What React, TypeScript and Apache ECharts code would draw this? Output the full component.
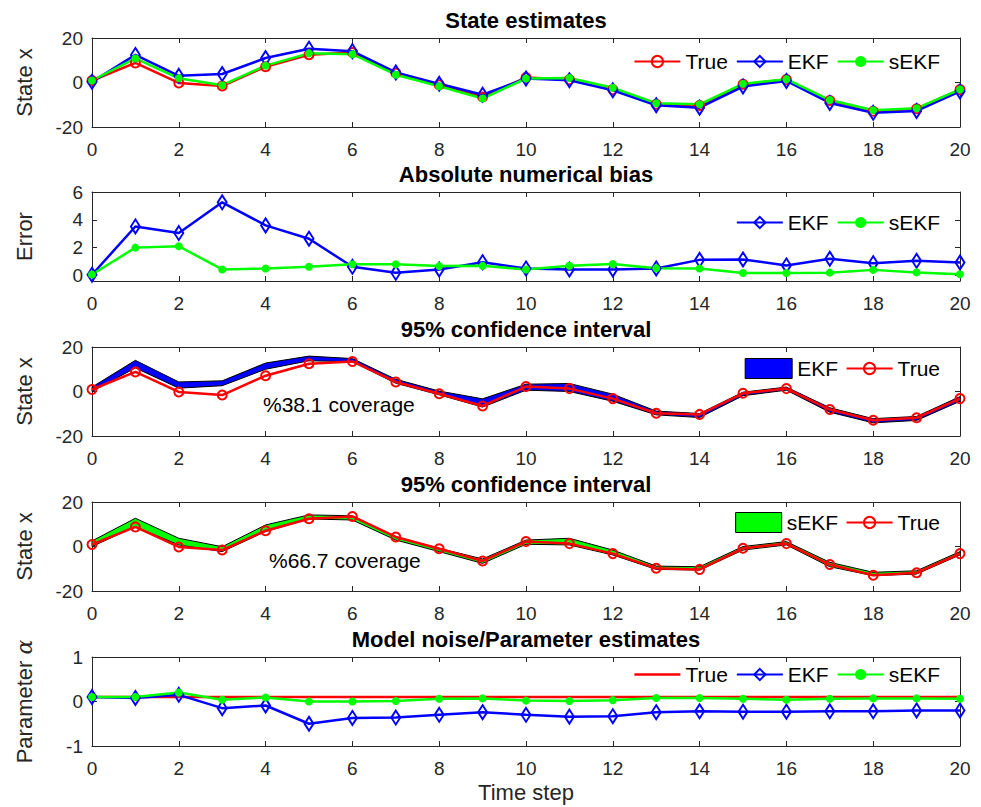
import { useEffect, useRef } from 'react';
import * as echarts from 'echarts';

// ---------------- data ----------------
const steps = [0, 1, 2, 3, 4, 5, 6, 7, 8, 9, 10, 11, 12, 13, 14, 15, 16, 17, 18, 19, 20];

const trueX = [0.9, 8.8, -0.2, -1.6, 7.1, 12.5, 13.5, 4.3, -1.0, -6.5, 2.2, 1.3, -3.2, -9.8, -10.3, -0.8, 1.3, -8.1, -12.9, -11.8, -3.2];
const ekfX = [0.3, 12.4, 3.0, 3.8, 11.0, 15.2, 14.1, 4.5, -0.6, -5.5, 1.8, 1.0, -3.5, -10.2, -11.3, -1.8, 0.7, -9.2, -13.6, -12.8, -4.0];
const sekfX = [0.9, 10.8, 1.9, -1.2, 7.6, 13.1, 12.7, 3.5, -1.7, -7.2, 1.8, 2.0, -2.4, -9.3, -9.8, -0.6, 1.5, -7.9, -12.5, -11.6, -3.1];

const ekfBias = [0.05, 3.52, 3.05, 5.26, 3.6, 2.64, 0.62, 0.19, 0.43, 0.95, 0.5, 0.43, 0.43, 0.5, 1.12, 1.15, 0.72, 1.2, 0.88, 1.05, 0.93];
const sekfBias = [0.07, 2.0, 2.1, 0.43, 0.5, 0.62, 0.8, 0.8, 0.67, 0.69, 0.43, 0.7, 0.82, 0.52, 0.5, 0.18, 0.18, 0.2, 0.4, 0.22, 0.08];

const ekfUpper = [2.0, 14.0, 4.3, 4.8, 12.8, 15.9, 14.8, 5.5, 0.2, -3.3, 3.3, 3.6, -1.2, -8.8, -9.9, -0.3, 2.0, -7.3, -12.2, -11.2, -2.3];
const ekfLower = [0.0, 10.6, 1.5, 2.6, 10.0, 13.8, 13.4, 3.7, -1.5, -7.0, 0.6, 0.0, -4.4, -10.5, -11.7, -1.9, 0.6, -9.3, -14.1, -13.0, -4.4];
const sekfUpper = [2.5, 12.7, 3.7, -0.1, 9.7, 14.2, 13.8, 4.4, -0.8, -5.6, 2.9, 3.7, -1.6, -8.8, -9.1, 0.0, 2.2, -7.1, -11.6, -10.9, -2.3];
const sekfLower = [0.0, 8.9, 0.7, -2.3, 6.7, 12.4, 11.9, 2.9, -2.3, -7.6, 1.0, 0.7, -3.8, -10.3, -10.6, -1.6, 0.7, -9.1, -13.1, -12.4, -3.8];

const alphaTrue = [0.1, 0.1, 0.1, 0.1, 0.1, 0.1, 0.1, 0.1, 0.1, 0.1, 0.1, 0.1, 0.1, 0.1, 0.1, 0.1, 0.1, 0.1, 0.1, 0.1, 0.1];
const alphaEkf = [0.1, 0.08, 0.15, -0.15, -0.09, -0.5, -0.37, -0.36, -0.3, -0.24, -0.3, -0.34, -0.33, -0.24, -0.22, -0.23, -0.23, -0.22, -0.22, -0.2, -0.2];
const alphaSekf = [0.1, 0.1, 0.2, 0.04, 0.09, 0.0, 0.0, 0.01, 0.06, 0.07, 0.02, 0.01, 0.03, 0.08, 0.08, 0.06, 0.04, 0.06, 0.07, 0.07, 0.06];

const biasTicks = [0, 2, 4, 6];
const panelTitles = ['State estimates', 'Absolute numerical bias', '95% confidence interval', '95% confidence interval', 'Model noise/Parameter estimates'];
const yNames = ['State x', 'Error', 'State x', 'State x', 'Parameter {a|α}'];
const coverageTexts = ['%38.1 coverage', '%66.7 coverage'];
const xName = 'Time step';

// ---------------- styling ----------------
const FONT = '"Liberation Sans", Arial, Helvetica, sans-serif';
const AX = '#262626';
const RED = '#ff0000';
const BLUE = '#0000ff';
const GREEN = '#00ff00';
const GRID_TOPS = [38, 192, 347, 502, 657];
const GRID_H = 89;
const LEFT = 92;
const WIDTH = 868;
const yRanges = [
  { min: -20, max: 20, interval: 20 },
  { min: -0.4, max: 6 },
  { min: -20, max: 20, interval: 20 },
  { min: -20, max: 20, interval: 20 },
  { min: -1, max: 1, interval: 1 },
];
const LINE_ICON = 'path://M0,0 L46,0 L46,2.5 L0,2.5 Z';

const pts = (ys: number[]) => steps.map((s, i) => [s, ys[i]]);

function lineSeries(name: string, g: number, ys: number[], kind: 'true' | 'ekf' | 'sekf' | 'trueLine') {
  const base: any = {
    type: 'line',
    name,
    xAxisIndex: 2 * g,
    yAxisIndex: 2 * g,
    data: pts(ys),
    silent: true,
    emphasis: { disabled: true },
    z: 3,
  };
  if (kind === 'true') {
    return {
      ...base,
      symbol: 'circle',
      symbolSize: 9,
      itemStyle: { color: 'rgba(255,255,255,0)', borderColor: RED, borderWidth: 2 },
      lineStyle: { color: RED, width: 2.5 },
    };
  }
  if (kind === 'trueLine') {
    return { ...base, symbol: 'none', itemStyle: { color: RED }, lineStyle: { color: RED, width: 2.5 } };
  }
  if (kind === 'ekf') {
    return {
      ...base,
      symbol: 'diamond',
      symbolSize: [9, 14],
      itemStyle: { color: 'rgba(255,255,255,0)', borderColor: BLUE, borderWidth: 2 },
      lineStyle: { color: BLUE, width: 2.5 },
    };
  }
  return {
    ...base,
    symbol: 'circle',
    symbolSize: 8,
    itemStyle: { color: GREEN },
    lineStyle: { color: GREEN, width: 2.5 },
  };
}

function bandSeries(name: string, g: number, upper: number[], lower: number[], color: string) {
  return {
    type: 'custom',
    name,
    xAxisIndex: 2 * g,
    yAxisIndex: 2 * g,
    data: [[steps[0], upper[0]]],
    encode: { x: 0, y: 1 },
    silent: true,
    z: 2,
    itemStyle: { color, borderColor: '#000', borderWidth: 1 },
    renderItem: (_params: any, api: any) => {
      const poly: number[][] = [];
      steps.forEach((s, i) => poly.push(api.coord([s, upper[i]])));
      for (let i = steps.length - 1; i >= 0; i--) poly.push(api.coord([steps[i], lower[i]]));
      return {
        type: 'polygon',
        shape: { points: poly },
        style: { fill: color, stroke: '#000', lineWidth: 1 },
      };
    },
  };
}

function legend(data: any[], right: number, centerY: number, itemWidth = 46, itemHeight = 14) {
  return {
    data,
    right,
    top: centerY - 11,
    orient: 'horizontal',
    padding: 0,
    itemGap: 8,
    itemWidth,
    itemHeight,
    selectedMode: false,
    formatter: (n: string) => n.split('#')[0],
    textStyle: { fontFamily: FONT, fontSize: 21, color: '#000', padding: 0 },
  };
}

function buildOption() {
  const grid = GRID_TOPS.map((top) => ({ left: LEFT, width: WIDTH, top, height: GRID_H, show: false }));
  const axisLine = { show: true, onZero: false, lineStyle: { color: AX, width: 1 } };
  const tick = { show: true, inside: true, length: 5, lineStyle: { color: AX, width: 1 } };
  const xAxis: any[] = [];
  const yAxis: any[] = [];
  GRID_TOPS.forEach((_t, g) => {
    xAxis.push({
      gridIndex: g,
      type: 'value',
      position: 'bottom',
      min: 0,
      max: 20,
      interval: 2,
      axisLine,
      axisTick: tick,
      splitLine: { show: false },
      axisLabel: { margin: 13, fontSize: 19, color: AX, fontFamily: FONT },
      ...(g === 4
        ? { name: xName, nameLocation: 'middle', nameGap: 35, nameTextStyle: { fontSize: 22, color: AX, fontFamily: FONT } }
        : {}),
    });
    xAxis.push({
      gridIndex: g,
      type: 'value',
      position: 'top',
      min: 0,
      max: 20,
      interval: 2,
      axisLine,
      axisTick: tick,
      splitLine: { show: false },
      axisLabel: { show: false },
    });
    const r = yRanges[g];
    const custom = g === 1;
    yAxis.push({
      gridIndex: g,
      type: 'value',
      position: 'left',
      min: r.min,
      max: r.max,
      ...(custom ? {} : { interval: r.interval }),
      axisLine,
      axisTick: custom ? { ...tick, customValues: biasTicks } : tick,
      splitLine: { show: false },
      axisLabel: custom
        ? { margin: 9, fontSize: 19, color: AX, fontFamily: FONT, customValues: biasTicks }
        : { margin: 9, fontSize: 19, color: AX, fontFamily: FONT },
      name: yNames[g],
      nameLocation: 'middle',
      nameGap: 57,
      nameTextStyle: {
        fontSize: 22,
        color: AX,
        fontFamily: FONT,
        rich: { a: { fontSize: 22, fontStyle: 'italic', fontFamily: '"DejaVu Serif", serif', color: AX } },
      },
    });
    yAxis.push({
      gridIndex: g,
      type: 'value',
      position: 'right',
      min: r.min,
      max: r.max,
      ...(custom ? {} : { interval: r.interval }),
      axisLine,
      axisTick: custom ? { ...tick, customValues: biasTicks } : tick,
      splitLine: { show: false },
      axisLabel: { show: false },
    });
  });

  const series: any[] = [
    lineSeries('True#0', 0, trueX, 'true'),
    lineSeries('EKF#0', 0, ekfX, 'ekf'),
    lineSeries('sEKF#0', 0, sekfX, 'sekf'),
    lineSeries('EKF#1', 1, ekfBias, 'ekf'),
    lineSeries('sEKF#1', 1, sekfBias, 'sekf'),
    bandSeries('EKF#band', 2, ekfUpper, ekfLower, BLUE),
    lineSeries('True#2', 2, trueX, 'true'),
    bandSeries('sEKF#band', 3, sekfUpper, sekfLower, GREEN),
    lineSeries('True#3', 3, trueX, 'true'),
    lineSeries('True#4', 4, alphaTrue, 'trueLine'),
    lineSeries('EKF#4', 4, alphaEkf, 'ekf'),
    lineSeries('sEKF#4', 4, alphaSekf, 'sekf'),
  ];

  const legends = [
    legend(['True#0', 'EKF#0', 'sEKF#0'], 41, 62),
    legend(['EKF#1', 'sEKF#1'], 41, 223),
    legend([{ name: 'EKF#band', icon: 'rect', itemStyle: { color: BLUE, borderColor: '#000', borderWidth: 1 } }], 143, 369, 47, 20),
    legend(['True#2'], 41, 369),
    legend([{ name: 'sEKF#band', icon: 'rect', itemStyle: { color: GREEN, borderColor: '#000', borderWidth: 1 } }], 143, 523, 46, 20),
    legend(['True#3'], 41, 523),
    legend([{ name: 'True#4', icon: LINE_ICON, itemStyle: { color: RED, borderWidth: 0 } }, 'EKF#4', 'sEKF#4'], 41, 675),
  ];

  const graphic: any[] = panelTitles.map((t, g) => ({
    type: 'text',
    x: LEFT + WIDTH / 2,
    y: GRID_TOPS[g] - 17.5,
    silent: true,
    style: {
      text: t,
      fontFamily: FONT,
      fontSize: 22,
      fontWeight: 'bold',
      fill: '#000',
      align: 'center',
      verticalAlign: 'middle',
    },
  }));
  graphic.push(
    {
      type: 'text',
      x: 263,
      y: 404,
      silent: true,
      style: { text: coverageTexts[0], fontFamily: FONT, fontSize: 21, fill: '#000', align: 'left', verticalAlign: 'middle' },
    },
    {
      type: 'text',
      x: 269,
      y: 560,
      silent: true,
      style: { text: coverageTexts[1], fontFamily: FONT, fontSize: 21, fill: '#000', align: 'left', verticalAlign: 'middle' },
    }
  );

  return {
    animation: false,
    backgroundColor: '#ffffff',
    textStyle: { fontFamily: FONT },
    grid,
    xAxis,
    yAxis,
    legend: legends,
    series,
    graphic,
  };
}

export default function App() {
  const ref = useRef<HTMLDivElement>(null);
  useEffect(() => {
    if (!ref.current) return;
    const chart = echarts.init(ref.current, undefined, { renderer: 'svg' });
    chart.setOption(buildOption() as any);
    return () => chart.dispose();
  }, []);
  return (
    <div
      ref={ref}
      style={{ position: 'fixed', left: 0, top: 0, width: 981, height: 807, background: '#fff' }}
    />
  );
}
